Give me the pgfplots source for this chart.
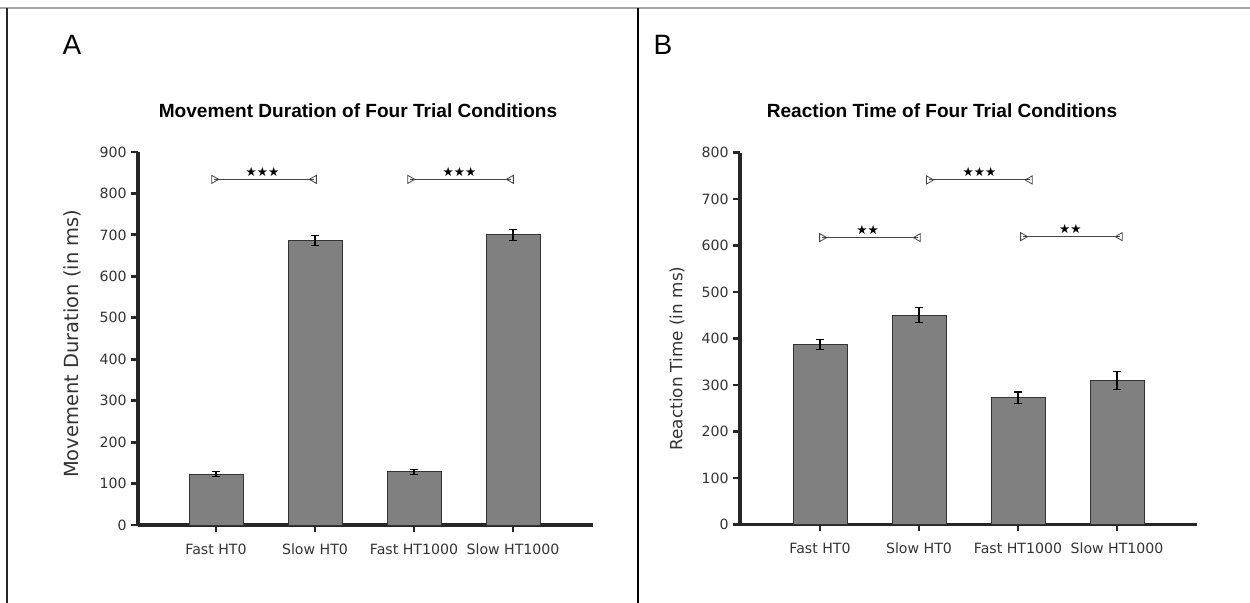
\documentclass[border=0pt]{standalone}
\usepackage{fontspec}
\setmainfont{DejaVu Sans}
\newfontfamily\arialf{Liberation Sans}
\usepackage{pgfplots}
\pgfplotsset{compat=1.18}

\definecolor{barfill}{HTML}{808080}
\definecolor{bardraw}{HTML}{333333}
\definecolor{axisc}{HTML}{262626}
\definecolor{labc}{HTML}{333333}
\definecolor{brk}{HTML}{444444}

\pgfplotstableread{
x  y    e
0  122  6
1  686  12
2  128  7
3  700  14
}\movdur

\pgfplotstableread{
x  y    e
0  387  11
1  450  16
2  273  12
3  310  20
}\reactime

\tikzset{stars/.style={font=\fontsize{9.4}{9.4}\selectfont, anchor=south, inner sep=0pt, yshift=2pt}}

\pgfplotsset{
  panel/.style={
    scale only axis,
    axis x line*=bottom, axis y line*=left,
    axis line style={line width=2.8pt, color=axisc},
    ymin=0,
    xtick={0,1,2,3},
    xticklabels={Fast HT0, Slow HT0, Fast HT1000, Slow HT1000},
    tick align=outside,
    major tick length=5pt,
    ytick style={line width=2.2pt, color=axisc},
    xtick style={line width=0.9pt, color=axisc},
    tick label style={font=\fontsize{10.6}{12}\selectfont, text=labc},
    xticklabel style={yshift=-5.5pt},
    /pgf/number format/assume math mode=true,
    ylabel style={text=labc, at={(axis description cs:0,0.5)}, anchor=center},
    clip=false,
  },
  bars/.style={ybar, bar width=40.5pt, fill=barfill, draw=bardraw, line width=0.7pt,
    error bars/.cd, y dir=both, y explicit,
    error bar style={line width=0.8pt, black},
    error mark options={rotate=90, mark size=3pt, line width=0.8pt, black}},
  brline/.style={sharp plot, draw=brk, line width=0.8pt, mark=none},
  brleft/.style={only marks, mark=triangle, mark size=3.5pt,
    mark options={rotate=-90, draw=brk, fill=white, line width=0.6pt}},
  brright/.style={only marks, mark=triangle, mark size=3.5pt,
    mark options={rotate=90, draw=brk, fill=white, line width=0.6pt}},
}

\begin{document}
\begin{tikzpicture}
\path[use as bounding box] (0,0) rectangle (937.5pt,452.25pt);

% panel frame lines
\draw[color=black!35, line width=1.5pt] (0,446.25pt) -- (937.5pt,446.25pt);
\draw[color=black!85, line width=1.1pt] (5.25pt,446.25pt) -- (5.25pt,0);
\draw[color=black, line width=1.3pt] (478.5pt,446.25pt) -- (478.5pt,0);

% Panel A: movement duration
\begin{axis}[panel,
  at={(103.5pt,58.5pt)}, anchor=south west,
  width=341.25pt, height=279.75pt,
  xmin=-0.788, xmax=3.808,
  ymax=900, ytick={0,100,...,900},
  ylabel={Movement Duration (in ms)},
  ylabel style={font=\fontsize{14.6}{16}\selectfont, yshift=49.5pt, xshift=-4pt},
]
\addplot[bars] table[x=x, y=y, y error=e] {\movdur};
\addplot[brline] coordinates {(-0.02,834) (0.99,834)};
\addplot[brleft] coordinates {(-0.02,834)};
\addplot[brright] coordinates {(0.99,834)};
\addplot[brline] coordinates {(1.96,834) (2.98,834)};
\addplot[brleft] coordinates {(1.96,834)};
\addplot[brright] coordinates {(2.98,834)};
\node[stars] at (axis cs:0.47,834) {★★★};
\node[stars] at (axis cs:2.46,834) {★★★};
\end{axis}

% Panel B: reaction time
\begin{axis}[panel,
  at={(555pt,58.875pt)}, anchor=south west,
  width=342.75pt, height=279pt,
  xmin=-0.808, xmax=3.808,
  ymax=800, ytick={0,100,...,800},
  ylabel={Reaction Time (in ms)},
  ylabel style={font=\fontsize{12.6}{14}\selectfont, yshift=47.25pt, xshift=-15pt},
]
\addplot[bars] table[x=x, y=y, y error=e] {\reactime};
\addplot[brline] coordinates {(0.02,617) (0.99,617)};
\addplot[brleft] coordinates {(0.02,617)};
\addplot[brright] coordinates {(0.99,617)};
\addplot[brline] coordinates {(1.10,741) (2.12,741)};
\addplot[brleft] coordinates {(1.10,741)};
\addplot[brright] coordinates {(2.12,741)};
\addplot[brline] coordinates {(2.05,619) (3.03,619)};
\addplot[brleft] coordinates {(2.05,619)};
\addplot[brright] coordinates {(3.03,619)};
\node[stars] at (axis cs:0.48,617) {★★};
\node[stars] at (axis cs:1.61,741) {★★★};
\node[stars] at (axis cs:2.53,619) {★★};
\end{axis}

% titles and panel letters
\node[font=\arialf\bfseries\fontsize{14.3}{16}\selectfont] at (268.5pt,369pt) {Movement Duration of Four Trial Conditions};
\node[font=\arialf\bfseries\fontsize{14.3}{16}\selectfont] at (706.5pt,369pt) {Reaction Time of Four Trial Conditions};
\node[font=\arialf\fontsize{21}{24}\selectfont] at (54pt,418.5pt) {A};
\node[font=\arialf\fontsize{21}{24}\selectfont] at (497.25pt,418.5pt) {B};
\end{tikzpicture}
\end{document}
